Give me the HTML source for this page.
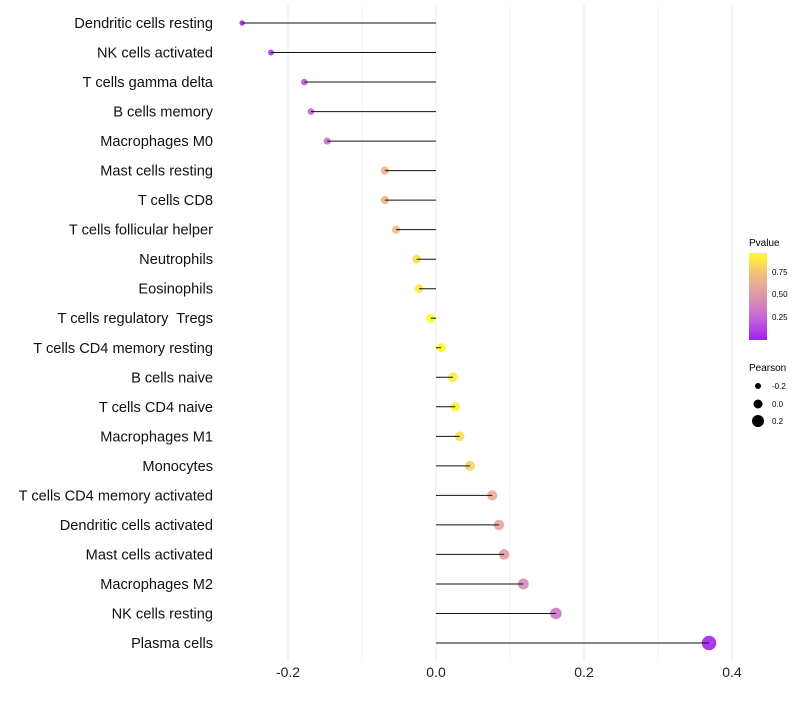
<!DOCTYPE html>
<html><head><meta charset="utf-8"><style>
body{margin:0;background:#fff;font-family:"Liberation Sans",sans-serif}
svg text{font-family:"Liberation Sans",sans-serif;white-space:pre}
</style></head><body>
<svg id="chart" width="800" height="700" xmlns="http://www.w3.org/2000/svg">
<defs><linearGradient id="pg" x1="0" y1="1" x2="0" y2="0">
<stop offset="0" stop-color="#a020f0"/><stop offset="0.26" stop-color="#c468d4"/><stop offset="0.52" stop-color="#df98a8"/><stop offset="0.78" stop-color="#f3c27a"/><stop offset="1" stop-color="#ffff20"/>
</linearGradient></defs>
<g id="grid"></g>
<g id="marks"></g>
<g id="ylabels"></g>
<g id="xlabels"></g>
<g>
<text x="749" y="246" font-size="10">Pvalue</text>
<rect x="749" y="253" width="18" height="87" fill="url(#pg)"/>
<text x="772" y="275" font-size="8">0.75</text>
<text x="772" y="297" font-size="8">0.50</text>
<text x="772" y="320" font-size="8">0.25</text>
</g>
<g>
<text x="749" y="371" font-size="10">Pearson</text>
<circle cx="758" cy="386" r="3" fill="#000"/>
<circle cx="758" cy="404" r="4.5" fill="#000"/>
<circle cx="758" cy="421" r="6" fill="#000"/>
<text x="772" y="389" font-size="8">-0.2</text>
<text x="772" y="407" font-size="8">0.0</text>
<text x="772" y="424" font-size="8">0.2</text>
</g>
</svg>
<script>
const categories=["Dendritic cells resting","NK cells activated","T cells gamma delta","B cells memory","Macrophages M0","Mast cells resting","T cells CD8","T cells follicular helper","Neutrophils","Eosinophils","T cells regulatory  Tregs","T cells CD4 memory resting","B cells naive","T cells CD4 naive","Macrophages M1","Monocytes","T cells CD4 memory activated","Dendritic cells activated","Mast cells activated","Macrophages M2","NK cells resting","Plasma cells"];
const pearson=[-0.262,-0.223,-0.178,-0.169,-0.147,-0.069,-0.069,-0.054,-0.026,-0.023,-0.007,0.007,0.023,0.026,0.032,0.046,0.076,0.085,0.092,0.118,0.162,0.369];
const pvalue=[0.03,0.1,0.2,0.25,0.3,0.65,0.65,0.72,0.85,0.88,0.95,0.95,0.9,0.9,0.85,0.8,0.62,0.58,0.52,0.42,0.32,0.02];
const xTicks=[-0.2,0,0.2,0.4];
const xTickLabels=["-0.2","0.0","0.2","0.4"];
const NS="http://www.w3.org/2000/svg";
const x=v=>436+v*740;
const y=i=>23+i*(620/21);
const rad=v=>4.6+7.2*v;
const stops=[[0,[160,32,240]],[0.25,[196,104,212]],[0.5,[223,152,168]],[0.75,[243,194,122]],[0.96,[255,255,32]]];
function col(p){p=Math.max(0,Math.min(0.96,p));for(let k=1;k<stops.length;k++){if(p<=stops[k][0]){const a=stops[k-1],b=stops[k],t=(p-a[0])/(b[0]-a[0]);return "rgb("+a[1].map((c,j)=>Math.round(c+(b[1][j]-c)*t)).join(",")+")";}}return "rgb(255,255,32)";}
function mk(t,at,parent){const e=document.createElementNS(NS,t);for(const k in at)e.setAttribute(k,at[k]);parent.appendChild(e);return e;}
const grid=document.getElementById('grid'),marks=document.getElementById('marks'),yl=document.getElementById('ylabels'),xl=document.getElementById('xlabels');
[-0.1,0.1,0.3].forEach(v=>{const l=mk('line',{x1:x(v),x2:x(v),y1:5,y2:660,stroke:'#f3f3f3','stroke-width':1},grid);

});
xTicks.forEach((v,i)=>{const l=mk('line',{x1:x(v),x2:x(v),y1:5,y2:660,stroke:'#ebebeb','stroke-width':1.2},grid);


const t=mk('text',{x:x(v),y:677,'font-size':14,'text-anchor':'middle',fill:'#222'},xl);t.textContent=xTickLabels[i];

});
categories.forEach((c,i)=>{
const t=mk('text',{x:213,y:y(i)+5,'font-size':14.6,'text-anchor':'end',fill:'#111'},yl);t.textContent=c;


const d=mk('circle',{cx:x(pearson[i]),cy:y(i),r:rad(pearson[i]),fill:col(pvalue[i]),'fill-opacity':0.9},marks);


const l=mk('line',{x1:x(0),x2:x(pearson[i]),y1:y(i),y2:y(i),stroke:'#111','stroke-width':1},marks);


});
</script>
</body></html>
